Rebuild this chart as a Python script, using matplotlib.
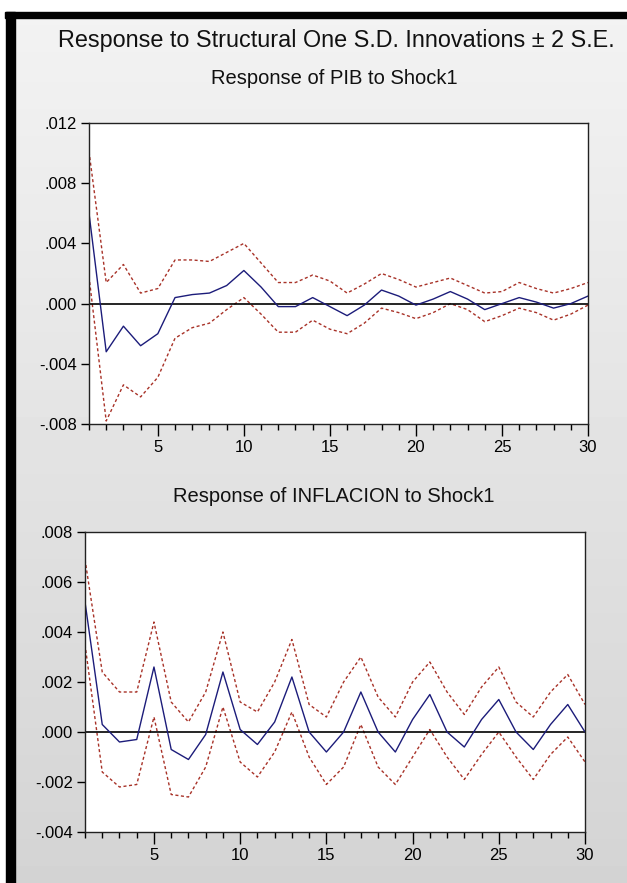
import matplotlib

matplotlib.use("Agg")
import matplotlib.pyplot as plt
import numpy as np
from matplotlib.patches import Rectangle
from matplotlib.ticker import FixedLocator, MultipleLocator

plt.rcParams["font.family"] = ["Liberation Sans", "DejaVu Sans"]

PERIODS = list(range(1, 31))

PIB_RESPONSE = [0.0060, -0.0032, -0.0015, -0.0028, -0.0020, 0.0004, 0.0006, 0.0007, 0.0012, 0.0022,
                0.0011, -0.0002, -0.0002, 0.0004, -0.0002, -0.0008, -0.0001, 0.0009, 0.0005, -0.0001,
                0.0003, 0.0008, 0.0003, -0.0004, 0.0000, 0.0004, 0.0001, -0.0003, 0.0000, 0.0005]
PIB_UPPER = [0.0101, 0.0014, 0.0026, 0.0007, 0.0010, 0.0029, 0.0029, 0.0028, 0.0034, 0.0040,
             0.0027, 0.0014, 0.0014, 0.0019, 0.0015, 0.0007, 0.0013, 0.0020, 0.0016, 0.0011,
             0.0014, 0.0017, 0.0012, 0.0007, 0.0008, 0.0014, 0.0010, 0.0007, 0.0010, 0.0014]
PIB_LOWER = [0.0018, -0.0078, -0.0054, -0.0062, -0.0049, -0.0023, -0.0016, -0.0013, -0.0004, 0.0004,
             -0.0007, -0.0019, -0.0019, -0.0011, -0.0017, -0.0020, -0.0013, -0.0003, -0.0006, -0.0010,
             -0.0006, 0.0000, -0.0004, -0.0012, -0.0008, -0.0003, -0.0006, -0.0011, -0.0007, -0.0001]
PIB_YTICKS = [-0.008, -0.004, 0.0, 0.004, 0.008, 0.012]
PIB_YTICK_LABELS = ["-.008", "-.004", ".000", ".004", ".008", ".012"]

INF_RESPONSE = [0.0052, 0.0003, -0.0004, -0.0003, 0.0026, -0.0007, -0.0011, -0.0001, 0.0024, 0.0001,
                -0.0005, 0.0004, 0.0022, 0.0000, -0.0008, 0.0000, 0.0016, 0.0000, -0.0008, 0.0005,
                0.0015, 0.0000, -0.0006, 0.0005, 0.0013, 0.0000, -0.0007, 0.0003, 0.0011, 0.0000]
INF_UPPER = [0.0069, 0.0024, 0.0016, 0.0016, 0.0044, 0.0012, 0.0004, 0.0016, 0.0040, 0.0012,
             0.0008, 0.0020, 0.0037, 0.0011, 0.0006, 0.0020, 0.0030, 0.0014, 0.0006, 0.0020,
             0.0028, 0.0016, 0.0007, 0.0018, 0.0026, 0.0012, 0.0006, 0.0016, 0.0023, 0.0011]
INF_LOWER = [0.0035, -0.0016, -0.0022, -0.0021, 0.0006, -0.0025, -0.0026, -0.0014, 0.0010, -0.0012,
             -0.0018, -0.0008, 0.0008, -0.0010, -0.0021, -0.0014, 0.0003, -0.0014, -0.0021, -0.0010,
             0.0001, -0.0010, -0.0019, -0.0009, 0.0000, -0.0010, -0.0019, -0.0009, -0.0002, -0.0012]
INF_YTICKS = [-0.004, -0.002, 0.0, 0.002, 0.004, 0.006, 0.008]
INF_YTICK_LABELS = ["-.004", "-.002", ".000", ".002", ".004", ".006", ".008"]

XTICKS = [5, 10, 15, 20, 25, 30]

W, H = 627, 883
BLUE = "#1c1c7a"
RED = "#a83228"


def draw_panel(ax, title, response, upper, lower, yticks, ylabels, title_y):
    ax.plot(PERIODS, upper, color=RED, linewidth=1.0, linestyle=(0, (2.2, 1.8)))
    ax.plot(PERIODS, lower, color=RED, linewidth=1.0, linestyle=(0, (2.2, 1.8)))
    ax.axhline(0, color="black", linewidth=1.2)
    ax.plot(PERIODS, response, color=BLUE, linewidth=1.0)

    ax.set_xlim(1, 30)
    ax.set_ylim(yticks[0], yticks[-1])
    ax.set_facecolor("white")
    ax.xaxis.set_major_locator(FixedLocator(XTICKS))
    ax.xaxis.set_minor_locator(MultipleLocator(1))
    ax.set_xticklabels([str(t) for t in XTICKS])
    ax.set_yticks(yticks)
    ax.set_yticklabels(ylabels)
    ax.tick_params(axis="x", which="major", direction="out", length=8.5, width=1.0, pad=3, labelsize=12, colors="black")
    ax.tick_params(axis="x", which="minor", direction="out", length=4.3, width=1.0)
    ax.tick_params(axis="y", direction="out", length=5.5, width=1.0, pad=3, labelsize=12)
    for spine in ax.spines.values():
        spine.set_linewidth(1.0)
        spine.set_color("#222222")
    ax.figure.text(0.533, title_y, title, ha="center", va="center", fontsize=14.5, color="#111111")


def main() -> None:
    fig = plt.figure(figsize=(W / 100, H / 100), dpi=100, facecolor="white")

    # grey gradient backdrop inside the black frame
    bg = fig.add_axes([15 / W, 0, 1 - 15 / W, 1 - 18 / H], zorder=-10)
    grad = np.linspace(0.95, 0.83, 256).reshape(-1, 1)
    bg.imshow(grad, aspect="auto", cmap="gray", vmin=0, vmax=1, extent=[0, 1, 0, 1])
    bg.axis("off")

    fig.patches.append(Rectangle((5 / W, 1 - 18 / H), 1, 6 / H, transform=fig.transFigure, color="black", zorder=5))
    fig.patches.append(Rectangle((6 / W, 0), 9 / W, 1 - 12 / H, transform=fig.transFigure, color="black", zorder=5))

    fig.text(0.537, 1 - 40 / H, "Response to Structural One S.D. Innovations \u00b1 2 S.E.",
             ha="center", va="center", fontsize=16.8, color="#111111")

    ax1 = fig.add_axes([89 / W, 1 - 424 / H, (588 - 89) / W, (424 - 123) / H])
    draw_panel(ax1, "Response of PIB to Shock1", PIB_RESPONSE, PIB_UPPER, PIB_LOWER,
               PIB_YTICKS, PIB_YTICK_LABELS, 1 - 78 / H)

    ax2 = fig.add_axes([85 / W, 1 - 832 / H, (585 - 85) / W, (832 - 532) / H])
    draw_panel(ax2, "Response of INFLACION to Shock1", INF_RESPONSE, INF_UPPER, INF_LOWER,
               INF_YTICKS, INF_YTICK_LABELS, 1 - 497 / H)

    fig.savefig("out.png", dpi=100, facecolor=fig.get_facecolor())
    plt.close(fig)


if __name__ == "__main__":
    main()
